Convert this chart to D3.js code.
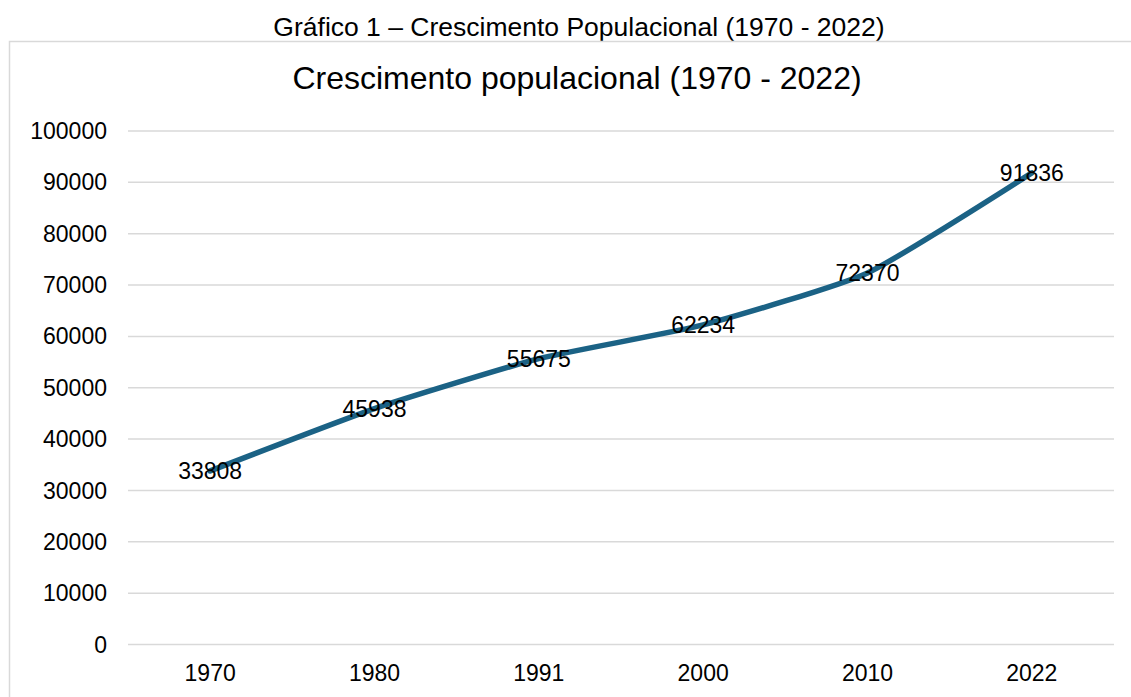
<!DOCTYPE html>
<html>
<head>
<meta charset="utf-8">
<script src="https://cdn.jsdelivr.net/npm/d3@7"></script>
<style>
  body { margin: 0; background: #fff; }
  text { font-family: "Liberation Sans", Arial, sans-serif; fill: #000; }
</style>
</head>
<body>
<svg id="chart" width="1131" height="697"></svg>
<script>
// dados
var anos = ["1970", "1980", "1991", "2000", "2010", "2022"];
var populacao = [33808, 45938, 55675, 62234, 72370, 91836];
var yTicks = [0, 10000, 20000, 30000, 40000, 50000, 60000, 70000, 80000, 90000, 100000];

var w = 1131, h = 697;
var plotLeft = 128, plotRight = 1114, plotTop = 131, plotBottom = 644.5;

var svg = d3.select("#chart");

// caption above frame
svg.append("text")
  .attr("x", 579).attr("y", 36)
  .attr("text-anchor", "middle")
  .style("font-size", "26.5px")
  .text("Gráfico 1 – Crescimento Populacional (1970 - 2022)");

// chart frame (runs off right & bottom)
svg.append("rect")
  .attr("x", 9.5).attr("y", 41.5)
  .attr("width", 1200).attr("height", 700)
  .attr("fill", "none")
  .attr("stroke", "#d9d9d9")
  .attr("stroke-width", 1.5);

svg.append("text")
  .attr("x", 577).attr("y", 89)
  .attr("text-anchor", "middle")
  .style("font-size", "32px")
  .text("Crescimento populacional (1970 - 2022)");

var x = d3.scaleBand().domain(anos).range([plotLeft, plotRight]);
var y = d3.scaleLinear().domain([0, 100000]).range([plotBottom, plotTop]);

// gridlines
svg.append("g").selectAll("line")
  .data(yTicks)
  .enter().append("line")
    .attr("x1", plotLeft).attr("x2", plotRight)
    .attr("y1", function(d) { return y(d); })
    .attr("y2", function(d) { return y(d); })
    .attr("stroke", "#d9d9d9")
    .attr("stroke-width", 1.5);

// y axis labels
svg.append("g").selectAll("text")
  .data(yTicks)
  .enter().append("text")
    .attr("x", 107)
    .attr("y", function(d) { return y(d); })
    .attr("dy", "0.35em")
    .attr("text-anchor", "end")
    .style("font-size", "23px")
    .text(function(d) { return d; });

// x axis labels
svg.append("g").selectAll("text")
  .data(anos)
  .enter().append("text")
    .attr("x", function(d) { return x(d) + x.bandwidth() / 2; })
    .attr("y", 681)
    .attr("text-anchor", "middle")
    .style("font-size", "23px")
    .text(function(d) { return d; });

var pts = anos.map(function(a, i) { return [x(a) + x.bandwidth() / 2, y(populacao[i])]; });

var line = d3.line().curve(d3.curveCardinal.tension(0.5));

svg.append("path")
  .attr("d", line(pts))
  .attr("fill", "none")
  .attr("stroke", "#1b6285")
  .attr("stroke-width", 5.5)
  .attr("stroke-linecap", "round")
  .attr("stroke-linejoin", "round");

// data labels
svg.append("g").selectAll("text")
  .data(pts)
  .enter().append("text")
    .attr("x", function(d) { return d[0]; })
    .attr("y", function(d) { return d[1]; })
    .attr("dy", "0.35em")
    .attr("text-anchor", "middle")
    .style("font-size", "23px")
    .text(function(d, i) { return populacao[i]; });
</script>
</body>
</html>
